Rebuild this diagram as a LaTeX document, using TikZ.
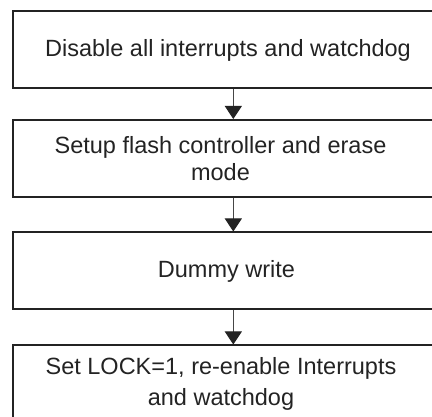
\documentclass[tikz,border=0pt]{standalone}
\usepackage{fontspec}
\setmainfont{Liberation Sans}
\usetikzlibrary{arrows.meta}
\definecolor{ink}{RGB}{35,35,35}
\definecolor{wire}{RGB}{70,70,70}
\tikzset{
  >={Triangle[length=13pt,width=17pt,color=ink]},
  stepbox/.style={draw=ink,line width=2pt,minimum width=440pt,minimum height=77pt,inner sep=0pt},
  steptext/.style={text=ink,align=center,inner sep=0pt,font=\fontsize{23.5}{#1}\selectfont},
  steptext/.default=28,
  flow/.style={->,line width=1pt,draw=wire},
}
\begin{document}
\begin{tikzpicture}[x=1pt,y=1pt]
  \useasboundingbox (0,0) rectangle (432,-417);
  % boxes, right side runs off the page
  \foreach \n/\y in {1/-50,2/-158.5,3/-271,4/-384}
    \node[stepbox] (b\n) at (233.3,\y) {};
  % texts sit a little left of the box centre
  \node[steptext] (t1) at (228,-50) {Disable all interrupts and watchdog};
  \node[steptext=27.5] (t2) at (220.5,-158.5) {Setup flash controller and erase\\mode};
  \node[steptext] (t3) at (226.5,-271) {Dummy write};
  \node[steptext=31.7] (t4) at (221,-384) {Set LOCK=1, re-enable Interrupts\\and watchdog};
  \foreach \a/\b in {1/2,2/3,3/4}
    \draw[flow] (b\a) -- (b\b);
\end{tikzpicture}
\end{document}
